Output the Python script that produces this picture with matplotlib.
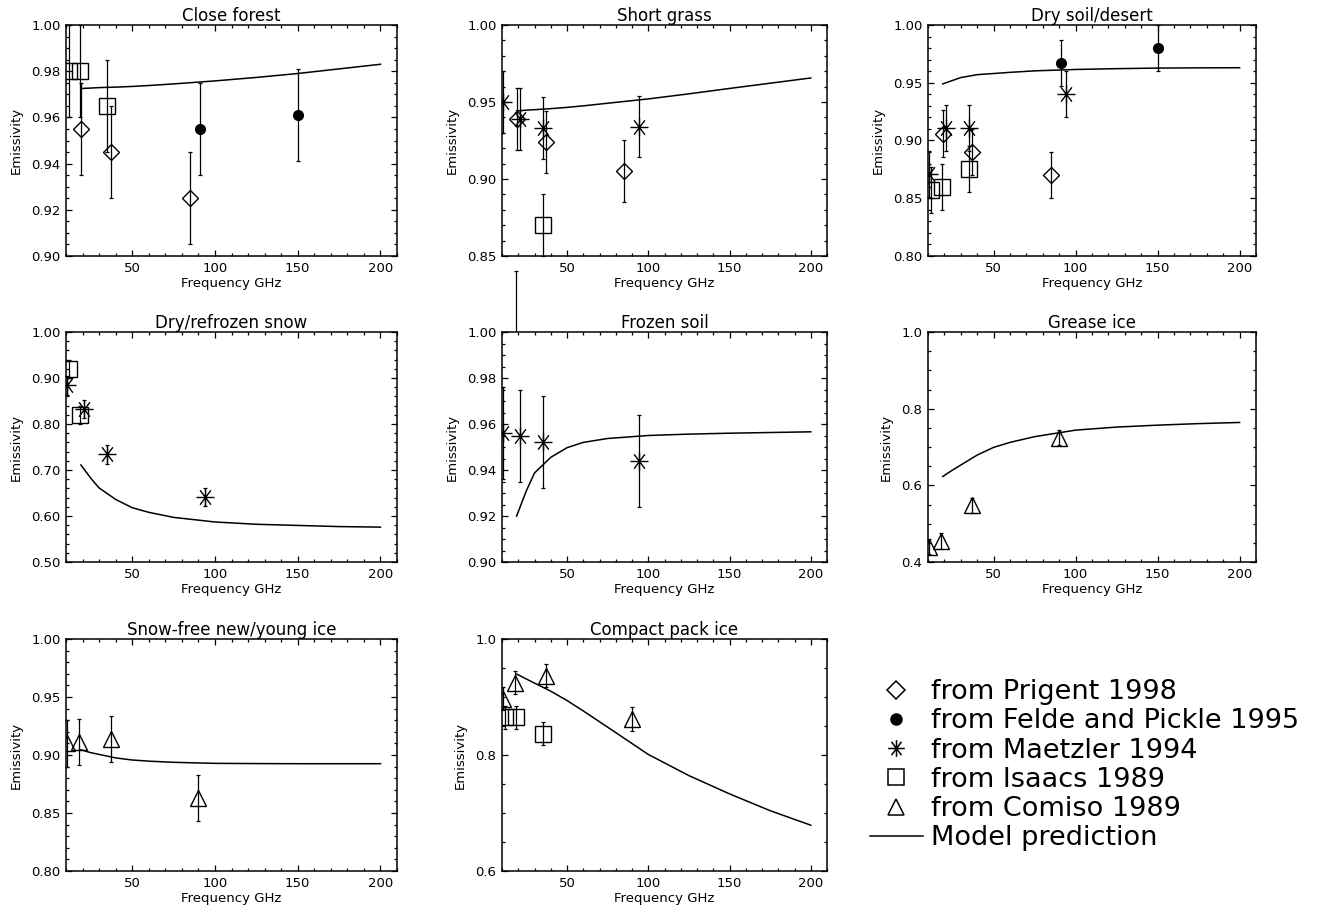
import numpy as np
import matplotlib
matplotlib.use("Agg")
import matplotlib.pyplot as plt
from matplotlib.path import Path
from matplotlib.lines import Line2D
from matplotlib.ticker import MultipleLocator, FormatStrFormatter

plt.rcParams["font.family"] = ["DejaVu Sans"]

nan = np.nan

PANELS = ["Close forest", "Short grass", "Dry soil/desert",
          "Dry/refrozen snow", "Frozen soil", "Grease ice",
          "Snow-free new/young ice", "Compact pack ice"]

# measurement frequencies (GHz) of each source
FREQ_PRIGENT = [19, 37, 85]
FREQ_FELDE = [91, 150]
FREQ_MAETZLER = [10.4, 21, 35, 94]
FREQ_ISAACS = [12, 18.5, 35]
FREQ_COMISO = [10.7, 18, 37, 90]

# emissivities, one list per panel (None = not shown)
PRIGENT = [[0.955, 0.945, 0.925], [0.939, 0.924, 0.905], [0.906, 0.890, 0.870],
           None, None, None, None, None]
FELDE = [[0.955, 0.961], None, [0.967, 0.980], None, None, None, None, None]
MAETZLER = [None, [0.950, 0.939, 0.933, 0.934], [0.871, 0.911, 0.911, 0.940],
            [0.884, 0.833, 0.734, 0.641], [0.956, 0.955, 0.952, 0.944],
            None, None, None]
ISAACS = [[0.980, 0.980, 0.965], [nan, 0.820, 0.870], [0.857, 0.860, 0.875],
          [0.920, 0.820, nan], None, None, None, [0.865, 0.865, 0.837]]
COMISO = [None, None, None, None, None,
          [0.440, 0.455, 0.548, 0.724], [0.910, 0.911, 0.914, 0.863],
          [0.897, 0.925, 0.937, 0.862]]

ERR_PRIGENT = 0.02
ERR_FELDE = 0.02
ERR_MAETZLER = 0.02
ERR_ISAACS = 0.02
ERR_COMISO = 0.02

# model prediction
MODEL_FREQ = [19, 25, 30, 40, 50, 60, 75, 100, 125, 150, 175, 200]
MODEL = [
    [0.9725, 0.9727, 0.9729, 0.9731, 0.9734, 0.9738, 0.9745, 0.9758, 0.9773, 0.979, 0.981, 0.983],
    [0.9442, 0.9447, 0.945, 0.9457, 0.9465, 0.9475, 0.9492, 0.952, 0.9553, 0.9588, 0.9622, 0.9656],
    [0.949, 0.952, 0.9545, 0.957, 0.958, 0.959, 0.9603, 0.9615, 0.9622, 0.9627, 0.9629, 0.963],
    [0.711, 0.682, 0.661, 0.636, 0.618, 0.608, 0.597, 0.587, 0.582, 0.5795, 0.577, 0.5758],
    [0.920, 0.931, 0.9387, 0.9455, 0.9497, 0.952, 0.9537, 0.955, 0.9556, 0.956, 0.9563, 0.9566],
    [0.623, 0.640, 0.653, 0.679, 0.699, 0.712, 0.727, 0.744, 0.752, 0.757, 0.761, 0.764],
    [0.9045, 0.902, 0.9005, 0.8975, 0.8957, 0.8947, 0.8937, 0.8928, 0.8926, 0.8925, 0.8925, 0.8925],
    [0.9396, 0.931, 0.924, 0.910, 0.894, 0.876, 0.848, 0.801, 0.7645, 0.733, 0.704, 0.679],
]

# y axis: (min, max, major, minor, format)
YAXES = [(0.90, 1.00, 0.02, 0.005, "%.2f"), (0.85, 1.00, 0.05, 0.01, "%.2f"),
         (0.80, 1.00, 0.05, 0.01, "%.2f"), (0.50, 1.00, 0.10, 0.02, "%.2f"),
         (0.90, 1.00, 0.02, 0.005, "%.2f"), (0.40, 1.00, 0.2, 0.05, "%.1f"),
         (0.80, 1.00, 0.05, 0.01, "%.2f"), (0.60, 1.00, 0.2, 0.05, "%.1f")]

# asterisk like the IDL psym=2
ASTER = Path([(-1, 0), (1, 0), (0, -1), (0, 1), (-0.6, -0.8), (0.6, 0.8), (-0.6, 0.8), (0.6, -0.8)],
             [Path.MOVETO, Path.LINETO] * 4)

W, H = 1320, 909
COLS = [(66, 397), (502, 827), (928, 1256)]
ROWS = [(25, 256), (332, 562), (639, 871)]

fig = plt.figure(figsize=(W / 100, H / 100), dpi=100)

SOURCES = [
    (FREQ_PRIGENT, PRIGENT, ERR_PRIGENT, dict(marker="D", ms=7.8, mfc="none")),
    (FREQ_FELDE, FELDE, ERR_FELDE, dict(marker="o", ms=7, mfc="k")),
    (FREQ_MAETZLER, MAETZLER, ERR_MAETZLER, dict(marker=ASTER, ms=13, mfc="none")),
    (FREQ_ISAACS, ISAACS, ERR_ISAACS, dict(marker="s", ms=11, mfc="none")),
    (FREQ_COMISO, COMISO, ERR_COMISO, dict(marker="^", ms=11.5, mfc="none")),
]

for i, title in enumerate(PANELS):
    c0, c1 = COLS[i % 3]
    r0, r1 = ROWS[i // 3]
    ax = fig.add_axes([c0 / W, 1 - r1 / H, (c1 - c0) / W, (r1 - r0) / H])

    for freq, vals, err, style in SOURCES:
        if vals[i] is None:
            continue
        eb = ax.errorbar(freq, vals[i], yerr=err, fmt="none", ecolor="k",
                         elinewidth=0.9, capsize=1.3, capthick=0.9)
        # the scanned original does not clip error bars
        for art in eb.lines[1] + eb.lines[2]:
            art.set_clip_on(False)
        ax.plot(freq, vals[i], linestyle="none", color="k", mec="k", mew=1.0, **style)

    ax.plot(MODEL_FREQ, MODEL[i], color="k", lw=1.1)

    ymin, ymax, ymaj, ymin_step, fmt = YAXES[i]
    ax.set_xlim(10, 210)
    ax.set_ylim(ymin, ymax)
    ax.xaxis.set_major_locator(MultipleLocator(50))
    ax.xaxis.set_minor_locator(MultipleLocator(10))
    ax.yaxis.set_major_locator(MultipleLocator(ymaj))
    ax.yaxis.set_minor_locator(MultipleLocator(ymin_step))
    ax.yaxis.set_major_formatter(FormatStrFormatter(fmt))
    ax.tick_params(which="both", direction="in", top=True, right=True, labelsize=9.5, width=0.9)
    ax.tick_params(which="major", length=4, pad=4)
    ax.tick_params(which="minor", length=2)
    for sp in ax.spines.values():
        sp.set_linewidth(1.1)
    ax.set_title(title, fontsize=12, pad=3)
    ax.set_xlabel("Frequency GHz", fontsize=9.5, labelpad=2)
    ax.set_ylabel("Emissivity", fontsize=9.5, labelpad=6)

handles = [
    Line2D([], [], ls="none", marker="D", ms=9, mfc="none", mec="k", mew=1.1),
    Line2D([], [], ls="none", marker="o", ms=8, mfc="k", mec="k"),
    Line2D([], [], ls="none", marker=ASTER, ms=12, mec="k", mew=1.1),
    Line2D([], [], ls="none", marker="s", ms=11, mfc="none", mec="k", mew=1.1),
    Line2D([], [], ls="none", marker="^", ms=11, mfc="none", mec="k", mew=1.1),
    Line2D([], [], color="k", lw=1.1),
]
labels = ["from Prigent 1998", "from Felde and Pickle 1995", "from Maetzler 1994",
          "from Isaacs 1989", "from Comiso 1989", "Model prediction"]
fig.legend(handles, labels, loc="upper left", bbox_to_anchor=(870 / W, 1 - 679 / H),
           frameon=False, fontsize=19.5, handlelength=1.95, handletextpad=0.3,
           labelspacing=0.12, borderpad=0, borderaxespad=0)

fig.savefig("out.png", dpi=100)
